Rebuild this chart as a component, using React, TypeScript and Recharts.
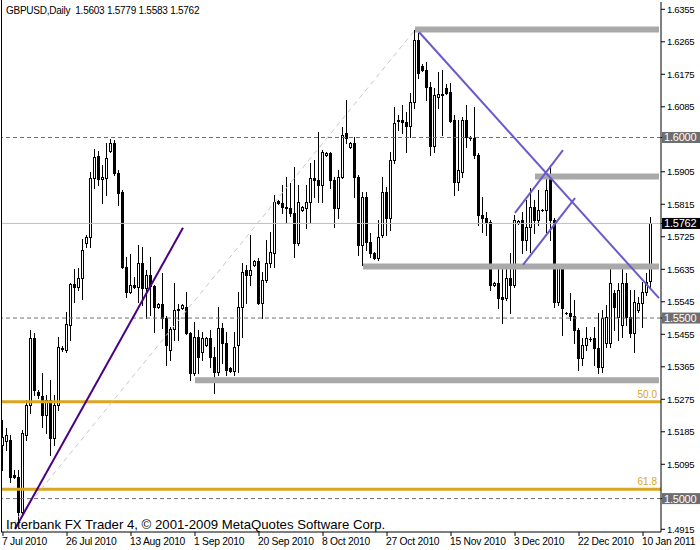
import { ComposedChart, Bar, XAxis, YAxis, ReferenceLine } from 'recharts';

const FONT = "'Liberation Sans', Arial, sans-serif";

// daily bars, one per trading day incl. Sunday bars, starting 7 Jul 2010
const opens = [
  1.5148, 1.516, 1.5162, 1.5066, 1.506, 1.4963, 1.5176, 1.5259, 1.5445, 1.5295,
  1.5284, 1.5232, 1.5273, 1.5168, 1.5259, 1.5417, 1.5412, 1.5481, 1.5594, 1.5586,
  1.5611, 1.5708, 1.5725, 1.5888, 1.5949, 1.5885, 1.5888, 1.5963, 1.5985, 1.5902,
  1.5849, 1.5642, 1.5572, 1.5592, 1.5586, 1.5653, 1.5583, 1.562, 1.5589, 1.5531,
  1.5539, 1.55, 1.5412, 1.547, 1.5523, 1.5528, 1.5531, 1.5459, 1.5348, 1.5448,
  1.5406, 1.5426, 1.5445, 1.5392, 1.5351, 1.5472, 1.5431, 1.5362, 1.5353, 1.5426,
  1.5531, 1.5634, 1.562, 1.5648, 1.5659, 1.5542, 1.5605, 1.5653, 1.5681, 1.5824,
  1.5819, 1.5808, 1.5805, 1.5791, 1.5708, 1.5799, 1.5805, 1.5821, 1.5888, 1.5882,
  1.5868, 1.5952, 1.5957, 1.5882, 1.5805, 1.5891, 1.6012, 1.5974, 1.5985, 1.5891,
  1.5702, 1.5835, 1.5711, 1.5681, 1.5667, 1.573, 1.5849, 1.5777, 1.5938, 1.6046,
  1.6049, 1.6043, 1.6032, 1.6098, 1.627, 1.6198, 1.6187, 1.614, 1.5976, 1.6112,
  1.6121, 1.6137, 1.6126, 1.6049, 1.5877, 1.5905, 1.6049, 1.6001, 1.5999, 1.5952,
  1.5786, 1.5777, 1.5766, 1.5592, 1.5597, 1.5559, 1.5556, 1.5611, 1.5592, 1.5764,
  1.5772, 1.5716, 1.5752, 1.5808, 1.5772, 1.5799, 1.5799, 1.5888, 1.5772, 1.5545,
  1.5639, 1.5514, 1.5514, 1.5506, 1.5467, 1.5389, 1.5426, 1.5442, 1.5445, 1.5417,
  1.5364, 1.5431, 1.5431, 1.557, 1.5503, 1.5481, 1.5597, 1.5503, 1.5459, 1.5523,
  1.5542, 1.5572, 1.5603,
];
const highs = [
  1.5218, 1.5196, 1.5176, 1.5079, 1.5079, 1.519, 1.5273, 1.5467, 1.5459, 1.5301,
  1.5348, 1.5287, 1.5329, 1.5287, 1.5448, 1.5423, 1.5517, 1.5597, 1.5636, 1.5639,
  1.5719, 1.573, 1.5905, 1.5968, 1.5963, 1.5924, 1.5985, 1.5996, 1.5993, 1.591,
  1.5855, 1.567, 1.5678, 1.5614, 1.5702, 1.5697, 1.5634, 1.567, 1.5592, 1.5542,
  1.5625, 1.5506, 1.5475, 1.5597, 1.5539, 1.5539, 1.5572, 1.5461, 1.5489, 1.5467,
  1.5461, 1.5448, 1.5467, 1.542, 1.5531, 1.5486, 1.5461, 1.5364, 1.5461, 1.5572,
  1.5653, 1.5648, 1.573, 1.5661, 1.5667, 1.5628, 1.5716, 1.5738, 1.5841, 1.5827,
  1.5868, 1.5891, 1.5874, 1.5918, 1.5868, 1.581, 1.5868, 1.5929, 1.5938, 1.6015,
  1.5965, 1.596, 1.596, 1.5891, 1.591, 1.6029, 1.6104, 1.5987, 1.6001, 1.5896,
  1.5849, 1.5849, 1.5736, 1.5683, 1.5772, 1.5891, 1.5863, 1.596, 1.6085, 1.6062,
  1.609, 1.6071, 1.6123, 1.6298, 1.629, 1.6204, 1.6209, 1.6154, 1.6137, 1.6182,
  1.6187, 1.6148, 1.6151, 1.6062, 1.6049, 1.6057, 1.609, 1.6004, 1.6085, 1.5957,
  1.5835, 1.5794, 1.5772, 1.56, 1.5648, 1.5648, 1.5648, 1.5681, 1.5786, 1.5772,
  1.5794, 1.5827, 1.586, 1.5827, 1.5855, 1.5802, 1.5905, 1.5924, 1.5777, 1.5642,
  1.5642, 1.5517, 1.557, 1.555, 1.5472, 1.5445, 1.5475, 1.5448, 1.5475, 1.5514,
  1.5523, 1.5536, 1.5648, 1.5578, 1.5597, 1.5648, 1.5625, 1.5578, 1.5578, 1.5559,
  1.56, 1.5625, 1.5779,
];
const lows = [
  1.5079, 1.5135, 1.5046, 1.5057, 1.4941, 1.4955, 1.5162, 1.5237, 1.5287, 1.5279,
  1.5198, 1.5182, 1.5121, 1.5148, 1.5245, 1.5409, 1.5406, 1.5439, 1.5545, 1.5578,
  1.5553, 1.5697, 1.5697, 1.586, 1.5868, 1.5819, 1.5841, 1.596, 1.5896, 1.5813,
  1.5639, 1.5559, 1.557, 1.5583, 1.5545, 1.5536, 1.55, 1.5509, 1.5461, 1.5528,
  1.5472, 1.537, 1.5384, 1.5439, 1.5439, 1.5525, 1.5455, 1.5329, 1.5342, 1.5348,
  1.5384, 1.5423, 1.5364, 1.5293, 1.5342, 1.5375, 1.5342, 1.5351, 1.5342, 1.5351,
  1.5448, 1.5542, 1.5592, 1.5645, 1.5539, 1.55, 1.56, 1.5642, 1.5642, 1.5816,
  1.5791, 1.5764, 1.5783, 1.567, 1.5702, 1.5797, 1.575, 1.5764, 1.5835, 1.5821,
  1.5821, 1.5949, 1.586, 1.5752, 1.5777, 1.5888, 1.5985, 1.5971, 1.5835, 1.5675,
  1.5648, 1.5689, 1.567, 1.5664, 1.5661, 1.5725, 1.573, 1.5744, 1.5929, 1.6021,
  1.6012, 1.596, 1.6001, 1.6082, 1.6165, 1.6184, 1.6104, 1.5952, 1.596, 1.6082,
  1.6007, 1.6121, 1.6043, 1.5841, 1.5855, 1.5891, 1.5974, 1.5993, 1.5943, 1.5758,
  1.5738, 1.573, 1.5578, 1.5589, 1.5528, 1.5486, 1.555, 1.5514, 1.5586, 1.5761,
  1.5681, 1.5689, 1.5683, 1.5736, 1.5758, 1.5797, 1.5738, 1.5716, 1.5531, 1.5536,
  1.5453, 1.5511, 1.5495, 1.5431, 1.5356, 1.537, 1.5412, 1.5437, 1.537, 1.5348,
  1.5351, 1.542, 1.542, 1.5467, 1.5439, 1.5448, 1.5481, 1.5448, 1.5406, 1.5517,
  1.5475, 1.5564, 1.5583,
];
const closes = [
  1.5171, 1.5176, 1.506, 1.506, 1.4963, 1.5182, 1.5259, 1.5445, 1.5301, 1.5287,
  1.5232, 1.5273, 1.5168, 1.5259, 1.542, 1.5414, 1.5484, 1.5594, 1.5586, 1.5611,
  1.5689, 1.5725, 1.5888, 1.5946, 1.5885, 1.5891, 1.5943, 1.5985, 1.5902, 1.5846,
  1.5642, 1.5572, 1.5592, 1.5586, 1.5653, 1.5583, 1.562, 1.5589, 1.5531, 1.5539,
  1.55, 1.5426, 1.547, 1.5523, 1.5525, 1.5536, 1.5459, 1.5348, 1.5448, 1.5392,
  1.5445, 1.5445, 1.5392, 1.5351, 1.5472, 1.5431, 1.5356, 1.5353, 1.542, 1.5531,
  1.5628, 1.562, 1.5634, 1.5659, 1.5542, 1.5605, 1.5653, 1.5683, 1.5821, 1.5819,
  1.5808, 1.5805, 1.5791, 1.5708, 1.5821, 1.5808, 1.5821, 1.5888, 1.5882, 1.5868,
  1.596, 1.5957, 1.5882, 1.5805, 1.5891, 1.6007, 1.5999, 1.5985, 1.5891, 1.5702,
  1.5835, 1.5711, 1.5681, 1.5667, 1.5725, 1.5849, 1.5777, 1.5938, 1.604, 1.6049,
  1.6043, 1.6032, 1.6098, 1.627, 1.6179, 1.6187, 1.614, 1.5976, 1.6118, 1.6121,
  1.6118, 1.6123, 1.6046, 1.5877, 1.591, 1.6049, 1.6001, 1.5999, 1.5952, 1.5786,
  1.5777, 1.5766, 1.5592, 1.5597, 1.5556, 1.5553, 1.5611, 1.5592, 1.5772, 1.5769,
  1.5716, 1.5752, 1.5808, 1.5772, 1.5799, 1.58, 1.5855, 1.5772, 1.5545, 1.5639,
  1.5528, 1.5515, 1.5506, 1.5467, 1.5389, 1.5426, 1.5445, 1.5443, 1.5417, 1.5364,
  1.55, 1.5503, 1.5597, 1.5531, 1.5578, 1.5597, 1.5503, 1.5459, 1.5545, 1.5542,
  1.5572, 1.56, 1.5762,
];

const emptySlots = 2; // chart shift on the right
const dateTicks = [0, 16, 32, 48, 64, 80, 96, 112, 128, 144, 160];
const dateLabels = [
  '7 Jul 2010', '26 Jul 2010', '13 Aug 2010', '1 Sep 2010', '20 Sep 2010', '8 Oct 2010',
  '27 Oct 2010', '15 Nov 2010', '3 Dec 2010', '22 Dec 2010', '10 Jan 2011',
];
// 1.5995 and 1.5005 sit under the boxed round levels, so they are left out
const priceTicks = [
  1.6355, 1.6265, 1.6175, 1.6085, 1.5905, 1.5815, 1.5725, 1.5635,
  1.5545, 1.5455, 1.5365, 1.5275, 1.5185, 1.5095, 1.4915,
];
const roundLevels = [1.6, 1.55, 1.5];
const bidPrice = 1.5762;
const fibRatios = ['50.0', '61.8'];
const fibPrices = [1.5268, 1.5026];
// support / resistance zones: start bar, price
const zoneStarts = [103, 133, 90, 48];
const zonePrices = [1.6299, 1.5892, 1.5643, 1.5328];
// drawn trendlines: [bar, price] anchor pairs
const downTrend = [[104, 1.6292], [164, 1.5555]];
const channelUpper = [[128, 1.5791], [140, 1.5965]];
const channelLower = [[130, 1.5647], [143, 1.5832]];
const julyTrend = [[3, 1.4916], [45, 1.575]];
const fibDiagonal = [[1, 1.491], [103, 1.6298]];

const rows = Array.from({ length: opens.length + emptySlots }, (_, k) => ({
  k,
  o: opens[k] ?? null,
  h: highs[k] ?? null,
  l: lows[k] ?? null,
  c: closes[k] ?? null,
}));
const lastBar = rows.length - 1;

const Candle = (props: any) => {
  const { x, y, width, height, payload } = props;
  if (!payload || payload.h == null) return null;
  const { o, h, l, c } = payload;
  const yTop = Math.min(y, y + height);
  const yBot = Math.max(y, y + height);
  const toY = (v: number) => yTop + ((h - v) / (h - l)) * (yBot - yTop);
  const cx = Math.floor(x + width / 2);
  const hi = Math.round(toY(h));
  const lo = Math.round(toY(l));
  const top = Math.round(toY(Math.max(o, c)));
  const bot = Math.round(toY(Math.min(o, c)));
  return (
    <g>
      <rect x={cx} y={hi} width={1} height={lo - hi + 1} fill="#000" />
      <rect x={cx - 1} y={top} width={3} height={bot - top + 1} fill="#000" />
      {c > o && bot - top >= 2 && (
        <rect x={cx} y={top + 1} width={1} height={bot - top - 1} fill="#fff" />
      )}
    </g>
  );
};

const PriceTick = (props: any) => {
  const { x, y, payload } = props;
  const v = payload.value;
  const txt = v.toFixed(4);
  if (v === bidPrice || roundLevels.includes(v)) {
    return (
      <g>
        <rect x={x - 5} y={y - 5.5} width={38} height={11} fill={v === bidPrice ? '#000' : '#6e6e6e'} />
        <text x={x - 3} y={y + 4} fill="#fff" fontSize={11} fontFamily={FONT} letterSpacing={-0.2}>
          {txt}
        </text>
      </g>
    );
  }
  return (
    <text x={x} y={y + 3.5} fill="#000" fontSize={9.5} fontFamily={FONT} letterSpacing={-0.3}>
      {txt}
    </text>
  );
};

const DateTick = (props: any) => {
  const { x, y, payload } = props;
  return (
    <text x={x - 1} y={y + 7} fill="#000" fontSize={10.3} fontFamily={FONT} letterSpacing={-0.25}>
      {dateLabels[dateTicks.indexOf(payload.value)]}
    </text>
  );
};

const seg = (line: number[][]) => line.map(([x, y]) => ({ x, y }));

export default function App() {
  return (
    <div style={{ position: 'relative', width: 700, height: 550, background: '#fff' }}>
      <style>{'body{margin:0}'}</style>
      <ComposedChart
        width={700}
        height={550}
        data={rows}
        margin={{ top: 2, right: 0, bottom: 0, left: 1 }}
      >
        <XAxis
          dataKey="k"
          type="category"
          ticks={dateTicks}
          interval={0}
          height={18}
          tickSize={4}
          axisLine={{ stroke: '#000' }}
          tickLine={{ stroke: '#000' }}
          tick={<DateTick />}
        />
        <YAxis
          orientation="right"
          type="number"
          domain={[1.49075, 1.63752]}
          allowDataOverflow
          ticks={[...priceTicks, ...roundLevels, bidPrice]}
          interval={0}
          width={39}
          tickSize={4}
          axisLine={{ stroke: '#000' }}
          tickLine={{ stroke: '#000' }}
          tick={<PriceTick />}
        />
        {zoneStarts.map((s, i) => (
          <ReferenceLine
            key={'z' + i}
            segment={[{ x: s, y: zonePrices[i] }, { x: lastBar, y: zonePrices[i] }]}
            stroke="#a9a9a9"
            strokeWidth={6}
          />
        ))}
        {roundLevels.map((p) => (
          <ReferenceLine key={'r' + p} y={p} stroke="#707070" strokeDasharray="4 3" />
        ))}
        <ReferenceLine y={bidPrice} stroke="#c0c0c0" />
        {fibPrices.map((p, i) => (
          <ReferenceLine
            key={'f' + i}
            y={p}
            stroke="#daa520"
            strokeWidth={3}
            label={{
              value: fibRatios[i],
              position: 'insideBottomRight',
              offset: 4,
              fill: '#daa520',
              fontSize: 10,
              fontFamily: FONT,
            }}
          />
        ))}
        <ReferenceLine segment={seg(fibDiagonal)} stroke="#c8c8c8" strokeDasharray="5 4" />
        <Bar dataKey={(d: any) => (d.h == null ? null : [d.l, d.h])} shape={<Candle />} isAnimationActive={false} />
        <ReferenceLine segment={seg(julyTrend)} stroke="#4b0082" strokeWidth={2} />
        <ReferenceLine segment={seg(downTrend)} stroke="#6a5acd" strokeWidth={2} />
        <ReferenceLine segment={seg(channelUpper)} stroke="#6a5acd" strokeWidth={2} />
        <ReferenceLine segment={seg(channelLower)} stroke="#6a5acd" strokeWidth={2} />
      </ComposedChart>
      <div style={{ position: 'absolute', left: 1, top: 0, width: 1, height: 532, background: '#000' }} />
      <div
        style={{
          position: 'absolute', left: 6, top: 5, fontFamily: FONT, fontSize: 10,
          letterSpacing: -0.25, lineHeight: '12px', color: '#000', whiteSpace: 'pre',
        }}
      >
        {'GBPUSD,Daily  1.5603 1.5779 1.5583 1.5762'}
      </div>
      <div
        style={{
          position: 'absolute', left: 6, top: 517, fontFamily: FONT, fontSize: 13.2,
          letterSpacing: 0, lineHeight: '15px', color: '#000', whiteSpace: 'pre',
        }}
      >
        Interbank FX Trader 4, © 2001-2009 MetaQuotes Software Corp.
      </div>
    </div>
  );
}
